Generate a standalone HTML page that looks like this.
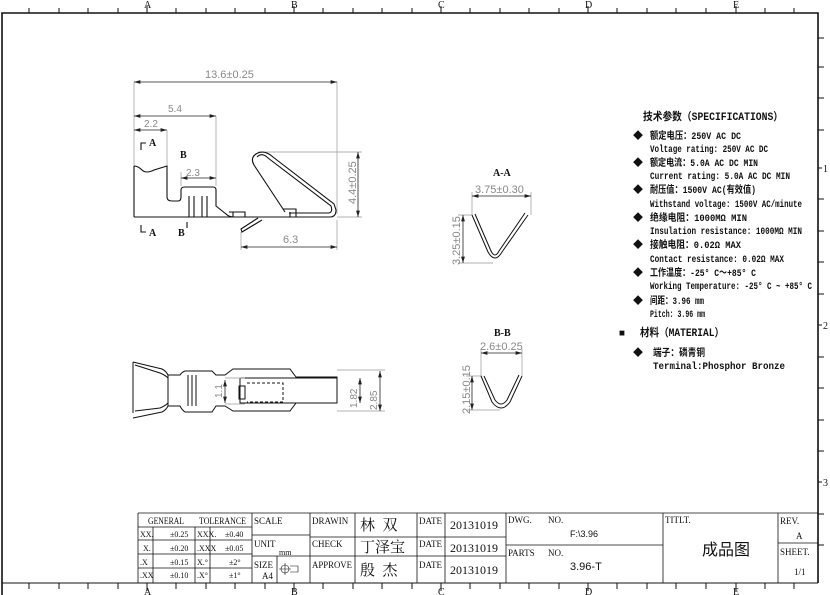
<!DOCTYPE html>
<html><head><meta charset="utf-8"><style>
html,body{margin:0;padding:0;background:#fff;}
svg{display:block;}
text{font-family:"Liberation Sans","Noto Sans CJK SC",sans-serif;fill:#111;}
.m text{font-family:"Liberation Mono","Noto Sans CJK SC",monospace;font-weight:bold;}
text.d,.d text{font-family:"Liberation Sans",sans-serif;fill:#888;}
.s text,text.s{font-family:"Liberation Serif","Noto Serif CJK SC",serif;}
.s text.sans{font-family:"Liberation Sans",sans-serif;}
.s text.cjk{font-family:"Noto Sans CJK SC",sans-serif;}
</style></head><body>
<svg width="830" height="595" viewBox="0 0 830 595" xmlns="http://www.w3.org/2000/svg">
<defs>
<marker id="a" viewBox="0 0 10 6" refX="10" refY="3" markerWidth="8" markerHeight="5" orient="auto-start-reverse"><path d="M0,0L10,3L0,6z" fill="#222"/></marker>
</defs>
<g stroke="#111" fill="none">
<path d="M2,595V13H818V583" stroke-width="1.6"/>
<path d="M2,583H818" stroke-width="1"/>
<g stroke-width="1">
<path d="M29,13V8M59,13V8M88,13V8M118,13V8M147,13V6M176,13V8M206,13V8M235,13V8M265,13V8M294,13V6M323,13V8M353,13V8M382,13V8M412,13V8M441,13V6M470,13V8M500,13V8M529,13V8M559,13V8M588,13V6M617,13V8M647,13V8M676,13V8M706,13V8M736,13V6M765,13V8M794,13V8"/>
<path d="M29,583V589M59,583V589M88,583V589M118,583V589M147,583V591M176,583V589M206,583V589M235,583V589M265,583V589M294,583V591M323,583V589M353,583V589M382,583V589M412,583V589M441,583V591M470,583V589M500,583V589M529,583V589M559,583V589M588,583V591M617,583V589M647,583V589M676,583V589M706,583V589M736,583V591M765,583V589M794,583V589"/>
<path d="M818,38H824M818,67H824M818,98H824M818,130H824M818,168H822M818,199H824M818,231H824M818,262H824M818,294H824M818,325H822M818,357H824M818,388H824M818,420H824M818,451H824M818,482H822M818,514H824M818,545H824"/>
</g>
</g>
<g font-size="10" class="s">
<text x="144" y="8">A</text><text x="291" y="8">B</text><text x="438" y="8">C</text><text x="585" y="8">D</text><text x="733" y="8">E</text>
<text x="144" y="595">A</text><text x="291" y="595">B</text><text x="438" y="595">C</text><text x="585" y="595">D</text><text x="733" y="595">E</text>
<text x="823" y="172">1</text><text x="823" y="329">2</text><text x="823" y="486">3</text>
</g>

<!-- side view -->
<g stroke="#999" stroke-width="0.7" fill="none">
<path d="M134,82V216M337,82V214M216,116V186M167,130V165M258,152H362M337,217H362M241,232V250M337,220V250M181,172V186"/>
</g>
<g stroke="#222" stroke-width="0.8" fill="none">
<path d="M134,82H337" marker-start="url(#a)" marker-end="url(#a)"/>
<path d="M134,116H216" marker-start="url(#a)" marker-end="url(#a)"/>
<path d="M134,130H167" marker-start="url(#a)" marker-end="url(#a)"/>
<path d="M181,178H216" marker-start="url(#a)" marker-end="url(#a)"/>
<path d="M358,152V217" marker-start="url(#a)" marker-end="url(#a)"/>
<path d="M241,247H337" marker-start="url(#a)" marker-end="url(#a)"/>
</g>
<g stroke="#111" stroke-width="1.1" fill="none">
<path d="M134,166Q138,166 142,170Q146,174 154,170L167,166V197Q167,201 172,201H178Q181,201 181,197V190Q181,187 185,187H213Q216,187 216,190V206L226,214Q229,217 234,217H330Q336,217 336,210L334,204L273,157Q264,149 256,154Q250,158 254,165L285,212"/>
<path d="M134,217H330M134,166V217"/>
<path d="M189,196V217M194,196V217M202,196V217M207,196V217"/>
<path d="M257,157Q262,152 268,158L331,206Q333,212 329,213L289,213"/>
<path d="M229,212H245V217M233,212V217M283,209H296V217M290,212V217"/>
<path d="M258,218L241,229L242,232L262,220"/>
<path d="M141,150V143H146M141,225V232H146M187,222V228"/>
</g>
<g font-size="10">
<text x="205" y="78" class="d" font-size="11">13.6±0.25</text>
<text x="168" y="112" class="d">5.4</text>
<text x="144" y="127" class="d">2.2</text>
<text x="186" y="176" class="d">2.3</text>
<text x="283" y="243" class="d" font-size="11">6.3</text>
<text x="356" y="204" class="d" font-size="11" transform="rotate(-90 356 204)">4.4±0.25</text>
<text x="149" y="146" class="s" font-weight="bold">A</text>
<text x="149" y="236" class="s" font-weight="bold">A</text>
<text x="180" y="158" class="s" font-weight="bold">B</text>
<text x="178" y="236" class="s" font-weight="bold">B</text>
</g>

<!-- bottom view -->
<g stroke="#111" stroke-width="1" fill="none">
<path d="M133,362V413M133,362L162,369Q166,371 168,375H180Q182,372 185,371H212Q214,373 216,375H225L233,369H290L296,377H337V403H296L290,411H233L225,406H216Q214,409 212,412H185Q182,410 180,406H168Q166,410 162,412L133,418"/>
<path d="M135,365L160,373Q165,375 168,378M135,411L160,408Q165,406 168,403"/>
<path d="M188,375V406M192,375V406M196,375V406M168,375V406"/>
<path d="M240,378H337M240,378V403H337M239,386H245V399H239z"/>
<path d="M247,383H283V402H247" stroke-dasharray="3,2"/>
</g>
<g stroke="#999" stroke-width="0.7" fill="none"><path d="M225,378H245M225,404H245M337,370H385M337,411H385"/></g>
<g stroke="#222" stroke-width="0.8" fill="none">
<path d="M225,380V403" marker-start="url(#a)" marker-end="url(#a)"/>
<path d="M360,378V403" marker-start="url(#a)" marker-end="url(#a)"/>
<path d="M380,371V411" marker-start="url(#a)" marker-end="url(#a)"/>
</g>
<g font-size="10">
<text x="222" y="398" class="d" transform="rotate(-90 222 398)">1.1</text>
<text x="357" y="408" class="d" transform="rotate(-90 357 408)">1.82</text>
<text x="377" y="410" class="d" transform="rotate(-90 377 410)">2.85</text>
</g>

<!-- sections -->
<g stroke="#999" stroke-width="0.7" fill="none"><path d="M472,192V215M531,192V215M458,215H472M458,263H493M481,349V376M522,349V376M466,376H482M466,410H500"/></g>
<g stroke="#222" stroke-width="0.8" fill="none">
<path d="M472,196H531" marker-start="url(#a)" marker-end="url(#a)"/>
<path d="M463,215V263" marker-start="url(#a)" marker-end="url(#a)"/>
<path d="M481,353H522" marker-start="url(#a)" marker-end="url(#a)"/>
<path d="M472,376V410" marker-start="url(#a)" marker-end="url(#a)"/>
</g>
<g stroke="#111" stroke-width="1" fill="none">
<path d="M472,215L488,252Q495,264 502,252L528,215M475,214L491,251Q495,259 499,251L525,213"/>
<path d="M481,376L492,402Q501,414 510,402L522,376M484,376L495,400Q501,408 507,400L519,375"/>
</g>
<g font-size="10">
<text x="493" y="176" class="s" font-weight="bold">A-A</text>
<text x="475" y="193" class="d" font-size="11">3.75±0.30</text>
<text x="460" y="265" class="d" font-size="11" transform="rotate(-90 460 265)">3.25±0.15</text>
<text x="494" y="336" class="s" font-weight="bold">B-B</text>
<text x="480" y="350" class="d" font-size="11">2.6±0.25</text>
<text x="470" y="414" class="d" font-size="11" transform="rotate(-90 470 414)">2.15±0.15</text>
</g>

<!-- specs -->
<g class="m" font-size="10">
<text x="643" y="120" font-size="11" textLength="140" lengthAdjust="spacingAndGlyphs">技术参数（SPECIFICATIONS）</text>
<text x="633" y="139">◆</text><text x="650" y="139" textLength="91" lengthAdjust="spacingAndGlyphs">额定电压：250V AC DC</text>
<text x="650" y="152" textLength="118" lengthAdjust="spacingAndGlyphs">Voltage rating: 250V AC DC</text>
<text x="633" y="166">◆</text><text x="650" y="166" textLength="108" lengthAdjust="spacingAndGlyphs">额定电流：5.0A AC DC MIN</text>
<text x="650" y="179" textLength="140" lengthAdjust="spacingAndGlyphs">Current rating: 5.0A AC DC  MIN</text>
<text x="633" y="193">◆</text><text x="650" y="193" textLength="106" lengthAdjust="spacingAndGlyphs">耐压值：1500V AC(有效值)</text>
<text x="650" y="207" textLength="152" lengthAdjust="spacingAndGlyphs">Withstand voltage: 1500V AC/minute</text>
<text x="633" y="221">◆</text><text x="650" y="221" textLength="97" lengthAdjust="spacingAndGlyphs">绝缘电阻：1000MΩ  MIN</text>
<text x="650" y="234" textLength="152" lengthAdjust="spacingAndGlyphs">Insulation resistance: 1000MΩ MIN</text>
<text x="633" y="248">◆</text><text x="650" y="248" textLength="91" lengthAdjust="spacingAndGlyphs">接触电阻：0.02Ω MAX</text>
<text x="650" y="262" textLength="134" lengthAdjust="spacingAndGlyphs">Contact resistance: 0.02Ω MAX</text>
<text x="633" y="276">◆</text><text x="650" y="276" textLength="106" lengthAdjust="spacingAndGlyphs">工作温度：-25° C～+85° C</text>
<text x="650" y="289" textLength="162" lengthAdjust="spacingAndGlyphs">Working Temperature: -25° C ~ +85° C</text>
<text x="633" y="304">◆</text><text x="650" y="304" textLength="54" lengthAdjust="spacingAndGlyphs">间距：3.96 mm</text>
<text x="650" y="317" textLength="55" lengthAdjust="spacingAndGlyphs">Pitch:  3.96 mm</text>
<text x="619" y="336">■</text><text x="640" y="336" font-size="11" textLength="84" lengthAdjust="spacingAndGlyphs">材料（MATERIAL）</text>
<text x="633" y="356">◆</text><text x="653" y="356" textLength="52" lengthAdjust="spacingAndGlyphs">端子：磷青铜</text>
<text x="653" y="369" textLength="132" lengthAdjust="spacingAndGlyphs">Terminal:Phosphor Bronze</text>
</g>

<!-- title block -->
<g stroke="#111" fill="none" stroke-width="0.8">
<path d="M138,513H818M138,513V583"/>
<path d="M252,513V583M310,513V583M417,513V583M506,513V583M663,513V583M778,513V583"/>
<path d="M138,527H252M138,540H252M138,554H252M138,568H252M153,527V583M195,527V583M210,527V583"/>
<path d="M252,535H310M252,556H310M277,556V583"/>
<path d="M310,537H417M310,556H417M355,513V583"/>
<path d="M417,537H506M417,556H506M445,513V583"/>
<path d="M506,545H663M778,543H818"/>
<circle cx="285" cy="569" r="4" stroke-width="0.6"/><path d="M279,569H291M285,563V575M290,566H298V572H290" stroke-width="0.6"/>
</g>
<g class="s" font-size="9">
<text x="148" y="524" textLength="36" lengthAdjust="spacingAndGlyphs">GENERAL</text><text x="199" y="524" textLength="47" lengthAdjust="spacingAndGlyphs">TOLERANCE</text>
<text x="140" y="537" font-size="8">XX.</text><text x="170" y="537" font-size="8">±0.25</text><text x="197" y="537" font-size="8">XXX.</text><text x="225" y="537" font-size="8">±0.40</text>
<text x="143" y="551" font-size="8">X.</text><text x="170" y="551" font-size="8">±0.20</text><text x="197" y="551" font-size="8">.XXX</text><text x="225" y="551" font-size="8">±0.05</text>
<text x="140" y="565" font-size="8">.X</text><text x="170" y="565" font-size="8">±0.15</text><text x="197" y="565" font-size="8">X.°</text><text x="229" y="565" font-size="8">±2°</text>
<text x="140" y="578" font-size="8">.XX</text><text x="170" y="578" font-size="8">±0.10</text><text x="197" y="578" font-size="8">.X°</text><text x="229" y="578" font-size="8">±1°</text>
<text x="254" y="524">SCALE</text>
<text x="254" y="547">UNIT</text><text x="279" y="555" font-size="8">mm</text>
<text x="254" y="568">SIZE</text><text x="262" y="579">A4</text>
<text x="312" y="524">DRAWIN</text><text x="312" y="547">CHECK</text><text x="312" y="568" textLength="40" lengthAdjust="spacingAndGlyphs">APPROVE</text>
<text x="360" y="530" font-size="15">林 &#160;双</text>
<text x="360" y="552" font-size="15">丁泽宝</text>
<text x="360" y="575" font-size="15">殷 &#160;杰</text>
<text x="419" y="524">DATE</text><text x="419" y="547">DATE</text><text x="419" y="568">DATE</text>
<text x="450" y="529" font-size="12">20131019</text>
<text x="450" y="552" font-size="12">20131019</text>
<text x="450" y="574" font-size="12">20131019</text>
<text x="508" y="523">DWG.</text><text x="548" y="523">NO.</text>
<text x="570" y="537" class="sans" font-size="9">F:\3.96</text>
<text x="508" y="556">PARTS</text><text x="548" y="556">NO.</text>
<text x="570" y="570" class="sans" font-size="11">3.96-T</text>
<text x="665" y="523">TITLT.</text>
<text x="702" y="555" font-size="16" class="cjk">成品图</text>
<text x="780" y="524">REV.</text><text x="796" y="539">A</text>
<text x="780" y="555">SHEET.</text><text x="794" y="575">1/1</text>
</g>
</svg>
</body></html>
